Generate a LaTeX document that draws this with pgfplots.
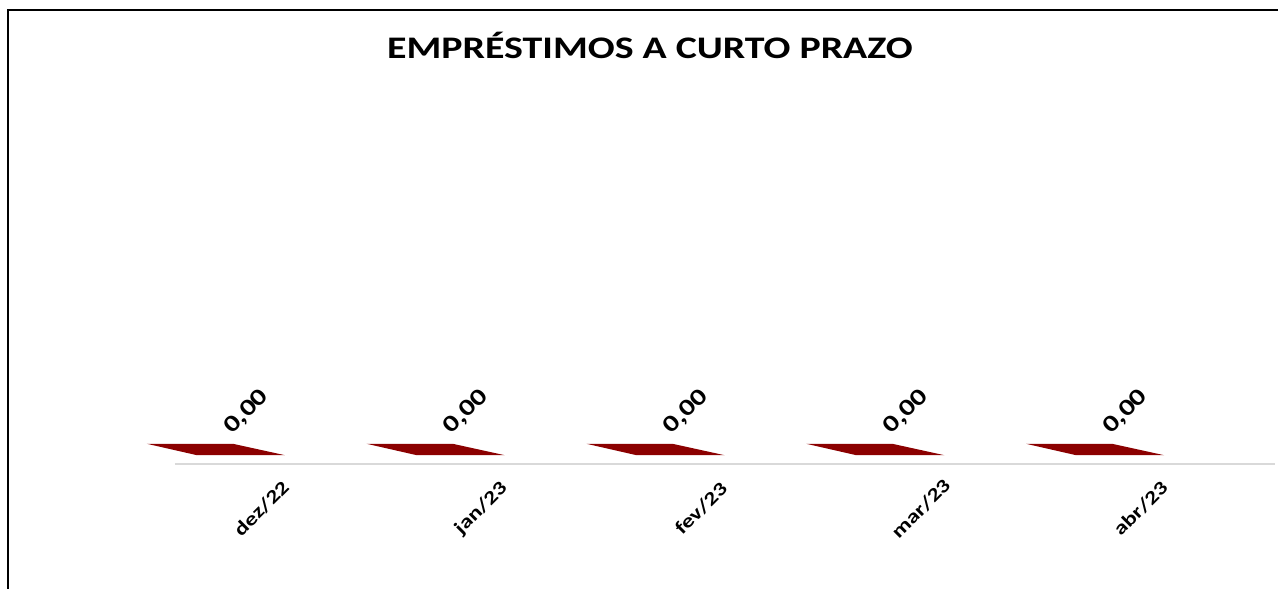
\documentclass[border=0pt]{standalone}
\usepackage{pgfplots}
\pgfplotsset{compat=1.18}
\usepackage{fontspec}
\setmainfont{Carlito}
\newfontfamily\wide[FakeStretch=1.27]{Carlito}
\definecolor{barred}{RGB}{139,0,0}
\definecolor{basegray}{RGB}{217,217,217}
\pgfdeclareplotmark{flatbar}{%
 \pgfpathmoveto{\pgfpoint{-68.5bp}{5.7bp}}%
 \pgfpathlineto{\pgfpoint{17.5bp}{5.7bp}}%
 \pgfpathlineto{\pgfpoint{69.5bp}{-5.7bp}}%
 \pgfpathlineto{\pgfpoint{-18.5bp}{-5.7bp}}%
 \pgfpathclose\pgfusepathqfill}
\begin{document}
\begin{tikzpicture}[x=1bp,y=1bp]
\begin{axis}[scale only axis,
 width=1100bp, height=365bp,
 xmin=-0.184, xmax=4.821, ymin=-1, ymax=23.333,
 clip=false,
 axis x line=bottom, axis y line=none,
 x axis line style={draw=basegray, line width=2bp, -},
 xtick={0,...,4}, xticklabels={dez/22,jan/23,fev/23,mar/23,abr/23},
 major tick length=0pt,
 xticklabel style={font=\wide\bfseries\fontsize{19}{22}\selectfont, anchor=center, xshift=46bp, yshift=-44bp, rotate=45},
 /pgf/number format/fixed, /pgf/number format/fixed zerofill,
 /pgf/number format/precision=2, /pgf/number format/use comma,
 /pgf/number format/assume math mode=true,
 ]
\addplot[only marks, mark=flatbar, color=barred, fill=barred,
 nodes near coords, point meta=y,
 every node near coord/.append style={font=\wide\bfseries\fontsize{23.5}{26}\selectfont, text=black, anchor=center, xshift=31bp, yshift=37.5bp, rotate=45}]
 coordinates {(0,0) (1,0) (2,0) (3,0) (4,0)};
\coordinate (ax0) at (rel axis cs:0,0);
\end{axis}
\pgfresetboundingbox
\begin{scope}[shift={(ax0)}]
\useasboundingbox (-175,-124.5) rectangle (1103,464.5);
\draw[line width=2bp] (-167.3,-124.5) -- (-167.3,454.2) -- (1103,454.2);
\node[font=\wide\bfseries\fontsize{31.5}{36}\selectfont, anchor=base, inner sep=0pt] at (475,405.5) {EMPRÉSTIMOS A CURTO PRAZO};
\end{scope}
\end{tikzpicture}
\end{document}
